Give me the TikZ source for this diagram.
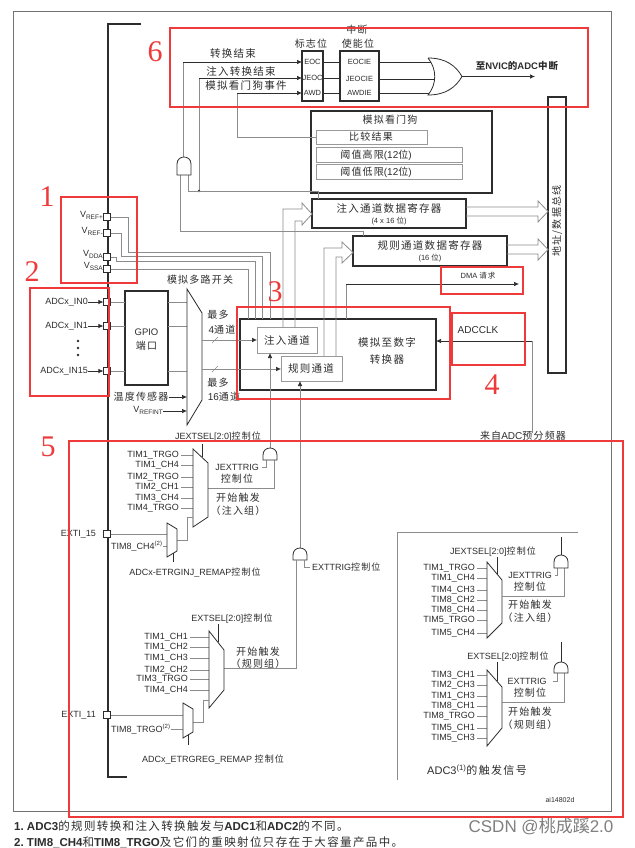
\documentclass[tikz,border=0pt]{standalone}
\usepackage{fontspec}
\setmainfont{Liberation Sans}
\newfontfamily\cjk[LetterSpace=12]{Noto Sans CJK SC}
\newfontfamily\cjkplain{Noto Sans CJK SC}
\newfontfamily\redserif{Liberation Serif}
\usetikzlibrary{arrows.meta,calc}
\newcommand{\zh}[1]{{\cjk #1}}
\newcommand{\zhn}[1]{{\cjk\mdseries #1}}
\newcommand{\subv}[1]{\raisebox{-2pt}{\fontsize{6.5}{7}\selectfont #1}}
\definecolor{rd}{RGB}{238,58,58}
\definecolor{wg}{RGB}{140,140,140}
\definecolor{dk}{RGB}{45,45,45}
\newcommand{\andup}[3]{%
  \draw[gatebody] ({#1-7},{#3}) -- ({#1-7},{#2+7}) .. controls ({#1-7},{#2-2.33}) and ({#1+7},{#2-2.33}) .. ({#1+7},{#2+7}) -- ({#1+7},{#3}) -- cycle;}
\tikzset{
  lt/.style={font=\fontsize{9}{10}\selectfont, inner sep=0pt, text=dk},
  lts/.style={font=\fontsize{7.5}{9}\selectfont, inner sep=0pt, text=dk},
  cz/.style={font=\fontsize{10}{11}\selectfont, inner sep=0pt, text=dk},
  czb/.style={font=\fontsize{10.5}{12}\selectfont, inner sep=0pt, text=dk},
  wire/.style={draw=wg, line width=0.6pt},
  bw/.style={draw=dk, line width=0.7pt},
  arrtip/.style={-{Latex[length=5pt,width=4.5pt,color=dk]}},
  tbox/.style={draw=dk, line width=1.3pt, inner sep=0pt, fill=white},
  gbox/.style={draw=black!40, line width=0.8pt, inner sep=0pt, fill=white},
  pinbox/.style={draw=dk, fill=white, line width=0.6pt, minimum size=6.5pt, inner sep=0pt},
  redbox/.style={draw=rd, line width=2pt},
  rnum/.style={font=\redserif\fontsize{30}{30}\selectfont, text=rd, inner sep=0pt},
  muxbody/.style={draw=dk, line width=0.8pt, fill=white},
  gatebody/.style={draw=dk, line width=0.8pt, fill=white},
}
\begin{document}
\begin{tikzpicture}[x=1pt,y=-1pt]
\useasboundingbox (0,0) rectangle (634,848);
\fill[white] (0,0) rectangle (634,848);
% frame and chip bracket
\draw[black!55, line width=0.7pt] (13,11) rectangle (611,811);
\draw[dk, line width=1.5pt] (141,24) -- (108,24) -- (108,777) -- (127,777);

% ---------------- boxes (filled, drawn first) ----------------
\node[tbox, minimum width=181pt, minimum height=82pt] (awdbox) at (401.5,152) {};
\node[gbox, minimum width=111pt, minimum height=14pt] (cmp) at (371.5,137) {};
\node[gbox, minimum width=146pt, minimum height=15pt] (hi) at (389,154.5) {};
\node[gbox, minimum width=146pt, minimum height=15pt] (lo) at (389,171.5) {};
\node[tbox, minimum width=18pt, minimum height=276pt] (bus) at (557,235) {};
\node[tbox, minimum width=154pt, minimum height=29pt] (jreg) at (389,213.5) {};
\node[tbox, minimum width=154pt, minimum height=30pt] (rreg) at (430,251) {};
\node[tbox, minimum width=196pt, minimum height=71pt] (adc) at (338,354.5) {};
\node[gbox, minimum width=60pt, minimum height=26pt] (jch) at (287,340) {};
\node[gbox, minimum width=61pt, minimum height=25pt] (rch) at (311.5,368.5) {};
\node[tbox, minimum width=43pt, minimum height=94pt] (gpio) at (146.5,338) {};

% ---------------- top: interrupt section ----------------
\node[cz] (tflag) at (311,44) {\zh{标志位}};
\node[cz] (tint) at (357,30) {\zh{中断}};
\node[cz] (tena) at (358,44) {\zh{使能位}};
\node[czb] (leoc) at (233,54) {\zh{转换结束}};
\node[czb] (ljeoc) at (241,71) {\zh{注入转换结束}};
\node[czb] (lawd) at (246,86) {\zh{模拟看门狗事件}};

\draw[wire] (183,157) -- (183,62);
\draw[bw,arrtip] (183,62) -- (302,62);
\draw[wire] (199,191) -- (199,78);
\draw[bw,arrtip] (199,78) -- (302,78);
\fill[dk] (199,191) circle (1.4);
\draw[wire] (cmp.west) -- (237,137) -- (237,93);
\draw[bw,arrtip] (237,93) -- (302,93);

\node[tbox, minimum width=21pt, minimum height=50pt] (flag) at (312.5,76) {};
\node[tbox, minimum width=39pt, minimum height=50pt] (ena) at (359.5,76) {};
\node[lts] (feoc) at (312.5,62) {EOC};
\node[lts] (fjeoc) at (312.5,78) {JEOC};
\node[lts] (fawd) at (312.5,93) {AWD};
\node[lts] (eeoc) at (359.5,62) {EOCIE};
\node[lts] (ejeoc) at (359.5,79) {JEOCIE};
\node[lts] (eawd) at (359.5,93) {AWDIE};
\draw[bw] (323,62) -- (340,62);
\draw[bw] (323,78) -- (340,78);
\draw[bw] (323,93) -- (340,93);
\draw[bw] (379,62) -- (440,62);
\draw[bw] (379,79) -- (440,79);
\draw[bw] (379,93) -- (440,93);
\draw[gatebody] (428,58) .. controls (446,58) and (456,66) .. (462,76.5) .. controls (456,87) and (446,95) .. (428,95) .. controls (437,84) and (437,69) .. (428,58);
\coordinate (orout) at (462,76.5);
\coordinate (nvic) at (535,76.5);
\draw[bw,arrtip] (orout) -- (nvic);
\node[font=\fontsize{9.5}{11}\selectfont\bfseries, inner sep=0pt, text=dk] (tnvic) at (517,66) {\zh{至}NVIC\zh{的}ADC\zh{中断}};

% analog watchdog texts
\node[cz] (tawd) at (390,120) {\zh{模拟看门狗}};
\node[cz] (tcmp) at (371,137) {\zh{比较结果}};
\node[cz] (thi) at (376,155) {\zh{阈值高限}(12\zh{位})};
\node[cz] (tlo) at (376,172) {\zh{阈值低限}(12\zh{位})};

% AND gate near EOC
\draw[wire] (180,175) -- (180,231) -- (363,231) -- (363,236);
\draw[wire] (188,175) -- (188,191) -- (318,191) -- (318,199);
\andup{184}{157}{175}

% bus
\node[cz, rotate=90] (tbus) at (557,221) {\zh{地址/数据总线}};

% registers
\node[czb] (tjreg) at (389,208) {\zh{注入通道数据寄存器}};
\node[lts] (tjreg2) at (389,221) {(4 x 16 \zh{位})};
\node[czb] (trreg) at (430,245) {\zh{规则通道数据寄存器}};
\node[lts] (trreg2) at (430,258) {(16 \zh{位})};
\draw[wire, line width=0.8pt] (466,207) -- (538,207) -- (538,201) -- (548,211.5) -- (538,222) -- (538,216) -- (466,216);
\draw[wire, line width=0.8pt] (507,245) -- (538,245) -- (538,239) -- (548,249.5) -- (538,260) -- (538,254) -- (507,254);
\draw[wire, line width=0.8pt] (283,327) -- (283,209) -- (302,209) -- (302,203) -- (312,214) -- (302,225) -- (302,221) -- (295,221) -- (295,327);
\draw[wire, line width=0.8pt] (324,356) -- (324,248) -- (342,248) -- (342,242) -- (353,252.5) -- (342,263) -- (342,257) -- (336,257) -- (336,356);

% DMA
\draw[wire] (346,319) -- (346,284);
\coordinate (dmaend) at (519,284);
\draw[bw,arrtip] (346,284) -- (dmaend);
\node[lts] (tdma) at (478,276) {DMA \zh{请求}};

% ADC texts
\node[czb] (tadc1) at (387,342) {\zh{模拟至数字}};
\node[czb] (tadc2) at (387,360) {\zh{转换器}};
\node[czb] (tjch) at (287,340) {\zh{注入通道}};
\node[czb] (trch) at (311,368) {\zh{规则通道}};

% ADCCLK
\coordinate (clkc) at (532,433);
\coordinate (clkin) at (436,341);
\draw[wire] (clkc) -- (532,341);
\draw[bw,arrtip] (532,341) -- (clkin);
\node[lt, font=\fontsize{10}{11}\selectfont] (tclk) at (478,330) {ADCCLK};
\node[cz] (tpre) at (523,436) {\zh{来自}ADC\zh{预分频器}};

% reference pins
\node[pinbox] (pvp) at (107,217) {};
\node[pinbox] (pvm) at (107,233) {};
\node[pinbox] (pvd) at (107,257) {};
\node[pinbox] (pvs) at (107,269) {};
\node[lt, anchor=east] (lvp) at (103,215) {V\subv{REF+}};
\node[lt, anchor=east] (lvm) at (103,231) {V\subv{REF-}};
\node[lt, anchor=east] (lvd) at (103,254) {V\subv{DDA}};
\node[lt, anchor=east] (lvs) at (103,266) {V\subv{SSA}};
\draw[wire] (pvp.east) -- (128,217) -- (128,252) -- (270,252) -- (270,319);
\draw[wire] (pvm.east) -- (121,233) -- (121,256) -- (262,256) -- (262,319);
\draw[wire] (pvd.east) -- (116,257) -- (116,261) -- (255,261) -- (255,319);
\draw[wire] (pvs.east) -- (248,269) -- (248,319);

% ADC input pins
\node[pinbox] (pin0) at (107,302) {};
\node[pinbox] (pin1) at (107,326) {};
\node[pinbox] (pin15) at (107,371) {};
\node[lt, anchor=east] (lin0) at (88,302) {ADCx\_IN0};
\node[lt, anchor=east] (lin1) at (88,326) {ADCx\_IN1};
\node[lt, anchor=east] (lin15) at (88,371) {ADCx\_IN15};
\draw[bw,arrtip] (lin0.east) -- (pin0.west);
\draw[bw,arrtip] (lin1.east) -- (pin1.west);
\draw[bw,arrtip] (lin15.east) -- (pin15.west);
\fill[dk] (78,341) circle (1.4) (78,348) circle (1.4) (78,355) circle (1.4);
\foreach \yy in {302,326,371}{
  \draw[wire] (111,\yy) -- (125,\yy);
  \draw[wire] (168,\yy) -- (187,\yy);
}
\node[lt, font=\fontsize{9.5}{11}\selectfont] (tgpio) at (146.5,332) {GPIO};
\node[cz] (tport) at (146.5,346) {\zh{端口}};

% analog mux
\draw[muxbody] (187,289) -- (202,313) -- (202,400) -- (187,425) -- cycle;
\node[cz] (tmux) at (200,280) {\zh{模拟多路开关}};
\node[cz] (ltemp) at (141,397) {\zh{温度传感器}};
\node[lt, anchor=east] (lvint) at (163,410) {V\subv{REFINT}};
\draw[bw,arrtip] (ltemp.east) -- (187,397);
\draw[bw,arrtip] (lvint.east |- 0,411) -- (187,411);
\draw[wire,arrtip] (202,340) -- (257,340);
\draw[wire,arrtip] (202,369) -- (281,369);
\draw[wire] (212,343) -- (218,337);
\draw[wire] (212,372) -- (218,366);
\node[cz] (tmax1) at (218,315) {\zh{最多}};
\node[cz] (tmax1b) at (222,330) {4\zh{通道}};
\node[cz] (tmax2) at (218,383) {\zh{最多}};
\node[cz] (tmax2b) at (224,397) {16\zh{通道}};

% ---------------- triggers to ADC ----------------
\draw[wire,arrtip] (270,448) -- (270,353);
\draw[wire,arrtip] (300,548) -- (300,381);

% injected trigger group
\node[lt] (tjsel) at (218,437) {JEXTSEL[2:0]\zh{控制位}};
\foreach \yy/\ss in {455/TIM1\_TRGO,465/TIM1\_CH4,477/TIM2\_TRGO,487/TIM2\_CH1,498/TIM3\_CH4,508/TIM4\_TRGO}{
  \node[lt, anchor=east] (ji\yy) at (179,\yy) {\ss};
  \draw[wire] (181,\yy) -- (193,\yy);
}
\draw[wire] (208,488) -- (274,488) -- (274,460);
\draw[wire] (262,467) -- (266,467) -- (266,460);
\draw[muxbody] (193,449) -- (208,463) -- (208,517) -- (193,527) -- cycle;
\draw[dk, line width=0.7pt] (202,444) -- (202,457.4);
\andup{270}{448}{460}
\node[lt] (tjtrig) at (237,467) {JEXTTRIG};
\node[cz] (tjtrig2) at (237,479) {\zh{控制位}};
\node[cz] (tjst) at (238,498) {\zh{开始触发}};
\node[cz] (tjst2) at (238,511) {\zh{（注入组）}};

% EXTI_15 remap
\node[pinbox] (pe15) at (107,534) {};
\node[lt, anchor=east] (le15) at (96,534) {EXTI\_15};
\draw[wire] (pe15.east) -- (167,534);
\node[lt, anchor=west] (lt8c4) at (111,546) {TIM8\_CH4\textsuperscript{(2)}};
\draw[wire] (lt8c4.east) -- (167,546);
\draw[wire] (177,540) -- (187,540) -- (187,517) -- (193,517);
\draw[muxbody] (167,523) -- (177,529) -- (177,551) -- (167,557) -- cycle;
\draw[dk, line width=0.7pt] (173,553.4) -- (173,562);
\node[lt] (tjremap) at (195,573) {ADCx-ETRGINJ\_REMAP\zh{控制位}};

% regular trigger group
\andup{300}{548}{560}
\draw[wire] (304,560) -- (304,567) -- (310,567);
\node[lt, anchor=west] (lexttrig) at (312,567) {EXTTRIG\zh{控制位}};
\draw[wire] (224,668) -- (296,668) -- (296,560);
\node[lt] (tesel) at (232,619) {EXTSEL[2:0]\zh{控制位}};
\foreach \yy/\ss in {637/TIM1\_CH1,647/TIM1\_CH2,658/TIM1\_CH3,670/TIM2\_CH2,679/TIM3\_TRGO,690/TIM4\_CH4}{
  \node[lt, anchor=east] (ri\yy) at (188,\yy) {\ss};
  \draw[wire] (190,\yy) -- (209,\yy);
}
\draw[muxbody] (209,631) -- (224,650) -- (224,690) -- (209,708) -- cycle;
\draw[dk, line width=0.7pt] (218,624) -- (218,642.4);
\node[cz] (trst) at (258,652) {\zh{开始触发}};
\node[cz] (trst2) at (258,664) {\zh{（规则组）}};

% EXTI_11 remap
\node[pinbox] (pe11) at (107,715) {};
\node[lt, anchor=east] (le11) at (96,715) {EXTI\_11};
\draw[wire] (pe11.east) -- (183,715);
\node[lt, anchor=west] (lt8tr) at (111,729) {TIM8\_TRGO\textsuperscript{(2)}};
\draw[wire] (lt8tr.east) -- (183,729);
\draw[wire] (193,722) -- (203,722) -- (203,700) -- (209,700);
\draw[muxbody] (183,703) -- (193,709) -- (193,732) -- (183,738) -- cycle;
\draw[dk, line width=0.7pt] (188,735) -- (188,745);
\node[lt] (tregremap) at (213,760) {ADCx\_ETRGREG\_REMAP \zh{控制位}};

% ---------------- ADC3 triggers ----------------
\draw[wire] (578,532) -- (397,532) -- (397,780);
\node[lt] (a3jsel) at (493,552) {JEXTSEL[2:0]\zh{控制位}};
\foreach \yy/\ss in {568/TIM1\_TRGO,578/TIM1\_CH4,590/TIM4\_CH3,600/TIM8\_CH2,610/TIM8\_CH4,620/TIM5\_TRGO,633/TIM5\_CH4}{
  \node[lt, anchor=east] (aj\yy) at (475,\yy) {\ss};
  \draw[wire] (477,\yy) -- (487,\yy);
}
\draw[muxbody] (487,562) -- (502,580) -- (502,623) -- (487,638) -- cycle;
\draw[dk, line width=0.7pt] (497,557) -- (497,574);
\draw[wire] (502,596) -- (564,596) -- (564,568);
\draw[wire] (555,575) -- (557,575) -- (557,568);
\draw[dk, line width=0.7pt] (561,555) -- (561,537);
\andup{561}{555}{568}
\node[lt] (a3jt) at (530,575) {JEXTTRIG};
\node[cz] (a3jt2) at (530,587) {\zh{控制位}};
\node[cz] (a3js) at (530,605) {\zh{开始触发}};
\node[cz] (a3js2) at (530,618) {\zh{（注入组）}};

\node[lt] (a3esel) at (508,657) {EXTSEL[2:0]\zh{控制位}};
\foreach \yy/\ss in {675/TIM3\_CH1,685/TIM2\_CH3,696/TIM1\_CH3,706/TIM8\_CH1,716/TIM8\_TRGO,728/TIM5\_CH1,738/TIM5\_CH3}{
  \node[lt, anchor=east] (ar\yy) at (475,\yy) {\ss};
  \draw[wire] (477,\yy) -- (487,\yy);
}
\draw[muxbody] (487,670) -- (502,687) -- (502,728) -- (487,746) -- cycle;
\draw[dk, line width=0.7pt] (497,662) -- (497,681.3);
\draw[wire] (502,702) -- (564,702) -- (564,673);
\draw[wire] (553,681) -- (557,681) -- (557,673);
\draw[dk, line width=0.7pt] (561,662) -- (561,642);
\andup{561}{662}{673}
\node[lt] (a3et) at (527,681) {EXTTRIG};
\node[cz] (a3et2) at (530,693) {\zh{控制位}};
\node[cz] (a3es) at (530,712) {\zh{开始触发}};
\node[cz] (a3es2) at (530,725) {\zh{（规则组）}};
\node[lt, font=\fontsize{11}{12}\selectfont] (a3title) at (477,770) {ADC3\textsuperscript{(1)}\zh{的触发信号}};
\node[lt, font=\fontsize{7}{8}\selectfont] (aicode) at (560,800) {ai14802d};

% footnotes and watermark
\node[anchor=west, font=\fontsize{11.5}{12}\selectfont\bfseries, inner sep=0pt, text=dk] (fn1) at (14,826) {1.\ ADC3\zhn{的规则转换和注入转换触发与}ADC1\zhn{和}ADC2\zhn{的不同。}};
\node[anchor=west, font=\fontsize{11.5}{12}\selectfont\bfseries, inner sep=0pt, text=dk] (fn2) at (14,842) {2.\ TIM8\_CH4\zhn{和}TIM8\_TRGO\zhn{及它们的重映射位只存在于大容量产品中。}};
\node[font=\fontsize{17}{18}\selectfont, inner sep=0pt, text=black!50] (wm) at (541,827) {CSDN @{\cjkplain 桃成蹊}2.0};

% ---------------- red annotation boxes ----------------
\draw[redbox] (170,28) rectangle (588,107);
\draw[redbox] (61,197) rectangle (137,283);
\draw[redbox] (30,288) rectangle (109,396);
\draw[redbox] (237,307) rectangle (450,399);
\draw[redbox] (441,267) rectangle (523,294);
\draw[redbox] (452,313) rectangle (525,365);
\draw[redbox] (69,441) rectangle (623,817);
\node[rnum] (n1) at (47,197) {1};
\node[rnum] (n2) at (32,272) {2};
\node[rnum] (n3) at (275,292) {3};
\node[rnum] (n4) at (492,385) {4};
\node[rnum] (n5) at (48,447) {5};
\node[rnum] (n6) at (155,52) {6};
\end{tikzpicture}
\end{document}
